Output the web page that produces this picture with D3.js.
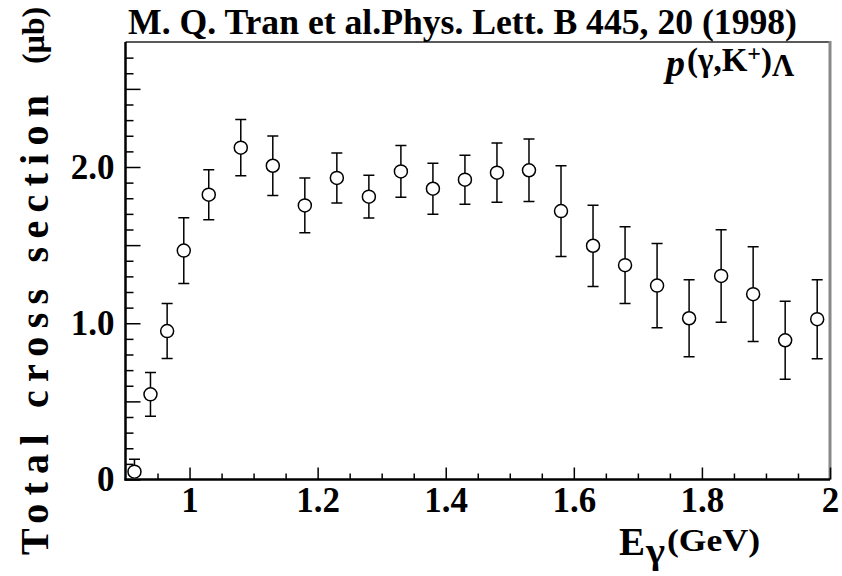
<!DOCTYPE html>
<html>
<head>
<meta charset="utf-8">
<script src="https://cdn.jsdelivr.net/npm/d3@7"></script>
<style>
  html, body { margin: 0; padding: 0; background: #fff; }
  svg text { font-family: "Liberation Serif", "Times New Roman", serif; font-weight: bold; fill: #000; }
</style>
</head>
<body>
<svg id="chart" width="842" height="576"></svg>
<script>
// ---- data ----
const energies = [0.914, 0.939, 0.965, 0.991, 1.03, 1.08, 1.13, 1.18, 1.23, 1.28, 1.33, 1.38, 1.43, 1.48, 1.53, 1.58, 1.63, 1.68, 1.73, 1.78, 1.83, 1.88, 1.93, 1.98];
const crossSection = [0.05, 0.545, 0.95, 1.465, 1.823, 2.124, 2.008, 1.754, 1.93, 1.81, 1.972, 1.861, 1.919, 1.964, 1.979, 1.718, 1.496, 1.372, 1.241, 1.032, 1.303, 1.186, 0.891, 1.026];
const errors = [0.08, 0.14, 0.176, 0.21, 0.16, 0.18, 0.19, 0.175, 0.16, 0.137, 0.165, 0.163, 0.157, 0.19, 0.2, 0.29, 0.26, 0.245, 0.27, 0.247, 0.296, 0.303, 0.25, 0.253];
const xMajorTicks = [1.0, 1.2, 1.4, 1.6, 1.8, 2.0];
const xMajorLabels = ["1", "1.2", "1.4", "1.6", "1.8", "2"];
const xMinorTicks = [0.95, 1.05, 1.1, 1.15, 1.25, 1.3, 1.35, 1.45, 1.5, 1.55, 1.65, 1.7, 1.75, 1.85, 1.9, 1.95];
const yMajorTicks = [0, 0.5, 1.0, 1.5, 2.0, 2.5];
const yMajorLabels = ["0", "", "1.0", "", "2.0", ""];
const yMinorTicks = [0.1, 0.2, 0.3, 0.4, 0.6, 0.7, 0.8, 0.9, 1.1, 1.2, 1.3, 1.4, 1.6, 1.7, 1.8, 1.9, 2.1, 2.2, 2.3, 2.4, 2.6, 2.7];
const titleText = "M. Q. Tran et al.Phys. Lett. B 445, 20 (1998)";

const data = energies.map((e, i) => ({ x: e, y: crossSection[i], err: errors[i] }));

// ---- layout ----
const L = 125.5, R = 830, T = 42, B = 479.5;
const svg = d3.select("#chart");
const x = d3.scaleLinear().domain([0.9, 2.0]).range([L, R]);
const y = d3.scaleLinear().domain([0, 2.8]).range([B, T]);

// frame (top + right)
svg.append("line").attr("x1", L).attr("x2", R).attr("y1", T).attr("y2", T)
  .attr("stroke", "#222").attr("stroke-width", 1.5);
svg.append("line").attr("x1", R).attr("x2", R).attr("y1", T - 1).attr("y2", B)
  .attr("stroke", "#888").attr("stroke-width", 3);

// x axis
const xMinor = svg.append("g").attr("transform", `translate(0,${B})`)
  .call(d3.axisBottom(x).tickValues(xMinorTicks).tickSize(-6).tickFormat(""));
const xMajor = svg.append("g").attr("transform", `translate(0,${B})`)
  .call(d3.axisBottom(x).tickValues(xMajorTicks).tickSize(-12).tickPadding(8)
    .tickFormat((d, i) => xMajorLabels[i]));
[xMinor, xMajor].forEach(g => {
  g.select(".domain").remove();
  g.selectAll(".tick line").attr("stroke", "#000").attr("stroke-width", 1.5);
});
xMajor.selectAll(".tick text").attr("font-size", 35).attr("font-family", "Liberation Serif").attr("font-weight", "bold");

// y axis
const yMinor = svg.append("g").attr("transform", `translate(${L},0)`)
  .call(d3.axisLeft(y).tickValues(yMinorTicks).tickSize(-8).tickFormat(""));
const yMajor = svg.append("g").attr("transform", `translate(${L},0)`)
  .call(d3.axisLeft(y).tickValues(yMajorTicks).tickSize(-15).tickPadding(11)
    .tickFormat((d, i) => yMajorLabels[i]));
[yMinor, yMajor].forEach(g => {
  g.select(".domain").remove();
  g.selectAll(".tick line").attr("stroke", "#000").attr("stroke-width", 1.5);
});
yMajor.selectAll(".tick text").attr("font-size", 35).attr("font-family", "Liberation Serif").attr("font-weight", "bold");

// axis lines
svg.append("line").attr("x1", L).attr("x2", L).attr("y1", T).attr("y2", B + 1)
  .attr("stroke", "#000").attr("stroke-width", 2.5);
svg.append("line").attr("x1", L - 1).attr("x2", R).attr("y1", B).attr("y2", B)
  .attr("stroke", "#000").attr("stroke-width", 2.5);

// clip
svg.append("clipPath").attr("id", "plotclip").append("rect")
  .attr("x", L).attr("y", T).attr("width", R - L).attr("height", B - T - 1);

const r = 6.5, cap = 5.5;
const marks = svg.append("g").attr("clip-path", "url(#plotclip)");
const pts = marks.selectAll("g.pt").data(data).enter().append("g").attr("class", "pt");
pts.append("line")
  .attr("x1", d => x(d.x)).attr("x2", d => x(d.x))
  .attr("y1", d => y(d.y) - r).attr("y2", d => y(d.y + d.err))
  .attr("stroke", "#000").attr("stroke-width", 1.5);
pts.append("line")
  .attr("x1", d => x(d.x)).attr("x2", d => x(d.x))
  .attr("y1", d => y(d.y) + r).attr("y2", d => y(d.y - d.err))
  .attr("stroke", "#000").attr("stroke-width", 1.5);
pts.append("line")
  .attr("x1", d => x(d.x) - cap).attr("x2", d => x(d.x) + cap)
  .attr("y1", d => y(d.y + d.err)).attr("y2", d => y(d.y + d.err))
  .attr("stroke", "#000").attr("stroke-width", 1.5);
pts.append("line")
  .attr("x1", d => x(d.x) - cap).attr("x2", d => x(d.x) + cap)
  .attr("y1", d => y(d.y - d.err)).attr("y2", d => y(d.y - d.err))
  .attr("stroke", "#000").attr("stroke-width", 1.5);
pts.append("circle")
  .attr("cx", d => x(d.x)).attr("cy", d => y(d.y)).attr("r", r)
  .attr("fill", "#fff").attr("stroke", "#000").attr("stroke-width", 1.5);

// title
svg.append("text").attr("x", 128).attr("y", 34)
  .attr("font-size", 35).attr("textLength", 669).attr("lengthAdjust", "spacingAndGlyphs")
  .text(titleText);

// reaction label
const re = svg.append("text").attr("x", 666).attr("y", 76);
re.append("tspan").attr("font-size", 38).attr("font-style", "italic").text("p");
re.append("tspan").attr("font-size", 33).attr("dy", -5).attr("dx", 2).text("(γ,K");
re.append("tspan").attr("font-size", 24).attr("dy", -10).text("+");
re.append("tspan").attr("font-size", 33).attr("dy", 10).text(")");
re.append("tspan").attr("font-size", 31).attr("dy", 5).text("Λ");

// x title
svg.append("text").attr("x", 619).attr("y", 555).attr("font-size", 39).text("E");
svg.append("text").attr("x", 646).attr("y", 563).attr("font-size", 36)
  .attr("textLength", 19).attr("lengthAdjust", "spacingAndGlyphs").text("γ");
svg.append("text").attr("x", 667).attr("y", 551).attr("font-size", 32)
  .attr("textLength", 93).attr("lengthAdjust", "spacingAndGlyphs").text("(GeV)");

// y title
svg.append("text").attr("transform", "translate(48,555) rotate(-90)")
  .attr("font-size", 40).attr("textLength", 460).attr("lengthAdjust", "spacing")
  .text("Total cross section");
svg.append("text").attr("transform", "translate(44,64) rotate(-90)")
  .attr("font-size", 32).text("(μb)");
</script>
</body>
</html>
